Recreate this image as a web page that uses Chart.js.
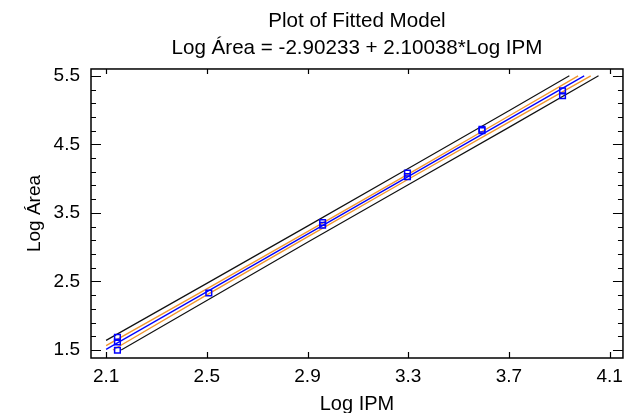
<!DOCTYPE html>
<html>
<head>
<meta charset="utf-8">
<script src="https://cdn.jsdelivr.net/npm/chart.js@4/dist/chart.umd.min.js"></script>
<style>
  html, body { margin: 0; padding: 0; background: #fff; }
  #wrap { width: 630px; height: 413px; }
</style>
</head>
<body>
<div id="wrap"><canvas id="c" width="630" height="413"></canvas></div>
<script>
// ---- data ----
const TITLE_LINES = ['Plot of Fitted Model', 'Log Área = -2.90233 + 2.10038*Log IPM'];
const X_LABEL = 'Log IPM';
const Y_LABEL = 'Log Área';

const X_TICKS = [2.1, 2.5, 2.9, 3.3, 3.7, 4.1];
const Y_TICKS = [1.5, 2.5, 3.5, 4.5, 5.5];
const Y_MINOR = [1.7, 1.9, 2.1, 2.3, 2.7, 2.9, 3.1, 3.3, 3.7, 3.9, 4.1, 4.3, 4.7, 4.9, 5.1, 5.3];
const X_RANGE = [2.04, 4.153];
const Y_RANGE = [1.383, 5.6];

const obsX = [2.145, 2.145, 2.145, 2.508, 2.96, 2.96, 3.297, 3.297, 3.593, 3.593, 3.913, 3.913];
const obsY = [1.685, 1.617, 1.496, 2.332, 3.36, 3.32, 4.08, 4.03, 4.72, 4.70, 5.28, 5.21];

const fitX = [2.1, 3.999];
const fitY = [1.508, 5.5];

const confUpX = [2.1, 2.5, 2.9, 3.3, 3.7, 3.975];
const confUpY = [1.563, 2.393, 3.227, 4.067, 4.914, 5.5];
const confLoX = [2.127, 2.5, 2.9, 3.3, 3.7, 4.025];
const confLoY = [1.5, 2.303, 3.151, 3.991, 4.824, 5.5];

const predUpX = [2.1, 2.5, 2.9, 3.3, 3.7, 3.94];
const predUpY = [1.64, 2.472, 3.307, 4.147, 4.992, 5.5];
const predLoX = [2.16, 2.5, 2.9, 3.3, 3.7, 4.056];
const predLoY = [1.5, 2.223, 3.071, 3.911, 4.748, 5.5];

const pts = (xs, ys) => xs.map((x, i) => ({x: x, y: ys[i]}));

const FONT = 'Liberation Sans, Arial, sans-serif';

const frameTicks = {
  id: 'frameTicks',
  afterDatasetsDraw(chart) {
    const {ctx, chartArea: a, scales: {x, y}} = chart;
    ctx.save();
    ctx.strokeStyle = '#000';
    ctx.lineWidth = 1.5;
    ctx.strokeRect(a.left, a.top, a.right - a.left, a.bottom - a.top);
    ctx.lineWidth = 1.2;
    ctx.beginPath();
    X_TICKS.forEach(v => {
      const px = Math.round(x.getPixelForValue(v)) + 0.5;
      ctx.moveTo(px, a.bottom); ctx.lineTo(px, a.bottom - 6);
      ctx.moveTo(px, a.top); ctx.lineTo(px, a.top + 5);
    });
    Y_TICKS.forEach(v => {
      const py = Math.round(y.getPixelForValue(v)) + 0.5;
      ctx.moveTo(a.left, py); ctx.lineTo(a.left + 10, py);
      ctx.moveTo(a.right, py); ctx.lineTo(a.right - 10, py);
    });
    Y_MINOR.forEach(v => {
      const py = Math.round(y.getPixelForValue(v)) + 0.5;
      ctx.moveTo(a.left, py); ctx.lineTo(a.left + 5, py);
      ctx.moveTo(a.right, py); ctx.lineTo(a.right - 5, py);
    });
    ctx.stroke();
    ctx.restore();
  }
};

new Chart(document.getElementById('c'), {
  type: 'scatter',
  data: {
    datasets: [
      { label: 'obs', data: pts(obsX, obsY), showLine: false,
        pointStyle: 'rect', pointRadius: 4, pointBorderColor: '#0000ff',
        pointBackgroundColor: 'rgba(0,0,0,0)', pointBorderWidth: 1.5 },
      { label: 'fit', data: pts(fitX, fitY), showLine: true, borderColor: '#0000ff',
        borderWidth: 1.3, pointRadius: 0 },
      { label: 'confUp', data: pts(confUpX, confUpY), showLine: true, borderColor: '#f0962e',
        borderWidth: 1.4, pointRadius: 0 },
      { label: 'confLo', data: pts(confLoX, confLoY), showLine: true, borderColor: '#f0962e',
        borderWidth: 1.4, pointRadius: 0 },
      { label: 'predUp', data: pts(predUpX, predUpY), showLine: true, borderColor: '#111',
        borderWidth: 1.2, pointRadius: 0 },
      { label: 'predLo', data: pts(predLoX, predLoY), showLine: true, borderColor: '#111',
        borderWidth: 1.2, pointRadius: 0 }
    ]
  },
  options: {
    responsive: false,
    animation: false,
    devicePixelRatio: 1,
    layout: { padding: { left: 0, right: 3, top: 0, bottom: 0 } },
    plugins: {
      legend: { display: false },
      tooltip: { enabled: false },
      title: {
        display: true, text: TITLE_LINES, fullSize: false, color: '#000',
        font: { family: FONT, size: 20.6, weight: 'normal', lineHeight: 1.32 },
        padding: { top: 7.5, bottom: 7.1 }
      }
    },
    scales: {
      x: {
        type: 'linear', min: X_RANGE[0], max: X_RANGE[1],
        afterBuildTicks: s => { s.ticks = X_TICKS.map(v => ({value: v})); },
        afterFit: s => { s.height = 55; },
        grid: { display: false, drawTicks: false },
        border: { display: false },
        ticks: { color: '#000', padding: 7, maxRotation: 0, autoSkip: false,
          font: { family: FONT, size: 19 }, callback: v => v.toFixed(1) },
        title: { display: true, text: X_LABEL, color: '#000',
          font: { family: FONT, size: 20, lineHeight: 0.9 }, padding: { top: 0, bottom: 0 } }
      },
      y: {
        type: 'linear', min: Y_RANGE[0], max: Y_RANGE[1],
        afterBuildTicks: s => { s.ticks = Y_TICKS.map(v => ({value: v})); },
        afterFit: s => { s.width = 91; },
        grid: { display: false, drawTicks: false },
        border: { display: false },
        ticks: { color: '#000', padding: 11, autoSkip: false,
          font: { family: FONT, size: 19 }, callback: v => v.toFixed(1) },
        title: { display: true, text: Y_LABEL, color: '#000',
          font: { family: FONT, size: 19, lineHeight: 1.2 }, padding: { top: 23.5, bottom: 0 } }
      }
    }
  },
  plugins: [frameTicks]
});
</script>
</body>
</html>
